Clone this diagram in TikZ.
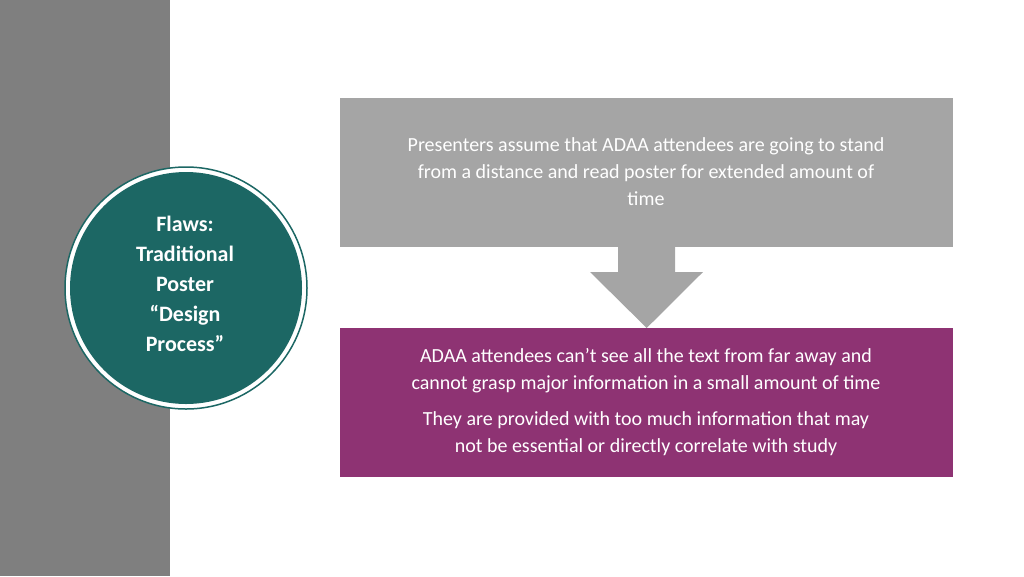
\documentclass[tikz,border=0pt]{standalone}
\usepackage{fontspec}
\setmainfont{Carlito}
\definecolor{sidecol}{HTML}{7F7F7F}
\definecolor{causecol}{HTML}{A5A5A5}
\definecolor{effectcol}{HTML}{8E3373}
\definecolor{flawcol}{HTML}{1C6764}
\begin{document}
\begin{tikzpicture}[
    x=1pt, y=-1pt,
    % ── Node Styles ──
    panel/.style={
        minimum width=613pt, minimum height=149pt,
        align=center, text=white, font=\fontsize{20}{27}\selectfont,
        inner sep=0pt, anchor=north west
    },
]
\useasboundingbox (0,0) rectangle (1024,576);

% ────────────────────────────────
%  SIDE BAR
% ────────────────────────────────
\fill[sidecol] (0,0) rectangle (170,576);

% ────────────────────────────────
%  PANELS
% ────────────────────────────────
\node[panel, fill=causecol, text depth=0pt] (cause) at (340,98) {};
\node[text=white, align=center, font=\fontsize{20}{27}\selectfont]
    (causetxt) at (646,172) {Presenters assume that ADAA attendees are going to stand\\
    from a distance and read poster for extended amount of\\ time};

\node[panel, fill=effectcol] (effect) at (340,328) {};
\node[text=white, align=center, font=\fontsize{20}{27}\selectfont]
    (effecttxt) at (646,402) {ADAA attendees can’t see all the text from far away and\\
    cannot grasp major information in a small amount of time\\[9pt]
    They are provided with too much information that may\\
    not be essential or directly correlate with study};

% Down arrow between panels
\fill[causecol] (618,247) -- (675,247) -- (675,272) -- (703,272)
    -- (effect.north) -- (590,272) -- (618,272) -- cycle;

% ────────────────────────────────
%  FLAW CIRCLE
% ────────────────────────────────
\draw[flawcol, line width=1.5pt, fill=white] (186,288) circle (121);
\node[circle, fill=flawcol, minimum size=232pt, inner sep=0pt,
      text=white, align=center, font=\bfseries\fontsize{22}{30}\selectfont]
    (flaw) at (186,288) {};
\node[text=white, align=center, font=\bfseries\fontsize{22}{30}\selectfont]
    (flawtxt) at (185,284) {Flaws:\\ Traditional\\ Poster\\ “Design\\ Process”};

\end{tikzpicture}
\end{document}
